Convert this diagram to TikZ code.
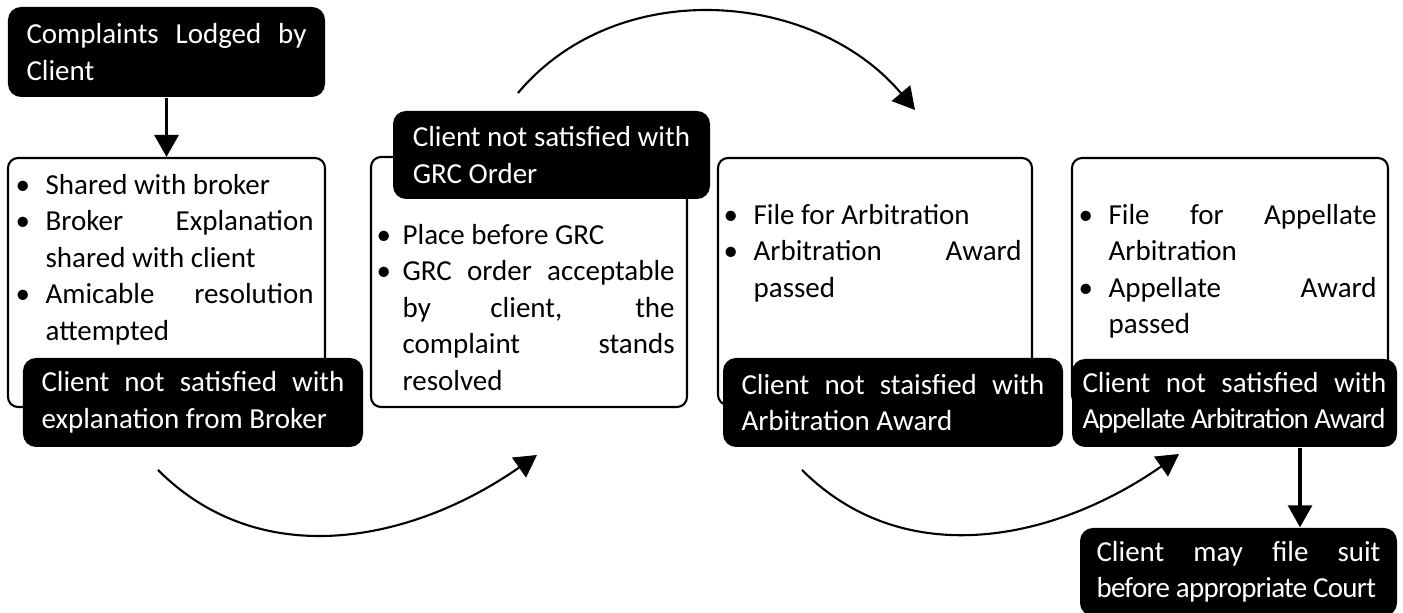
\documentclass[tikz,border=0pt]{standalone}
\usepackage{fontspec}
\setmainfont{Carlito}
\usetikzlibrary{arrows.meta}
\usetikzlibrary{calc}
\hyphenpenalty=10000
\exhyphenpenalty=10000

% one bullet point with hanging indent
\newcommand{\bul}[2][3mm]{\par\hangindent=#1\hangafter=1\noindent\makebox[#1][l]{\textbullet}#2\par}

\begin{document}
\begin{tikzpicture}[>={Triangle[length=2.2mm,width=2.4mm]},
    font=\fontsize{8.25}{10.4}\selectfont,
    pane/.style={draw,line width=0.6pt,rounded corners=1mm,inner sep=0pt},
    tag/.style={fill=black,text=white,rounded corners=1.3mm,align=justify,inner sep=0pt},
    pts/.style={anchor=north west,inner sep=0pt,text width=2.98cm,align=justify},
    flow/.style={->,line width=0.6pt},
    drop/.style={->,line width=0.9pt}]

    \useasboundingbox (0,0) rectangle (14.03,6.13);

    % white panes
    \node[pane,minimum width=3.17cm,minimum height=2.49cm] (b1) at (1.665,3.305) {};
    \node[pane,minimum width=3.16cm,minimum height=2.50cm] (b2) at (5.29,3.31) {};
    \node[pane,minimum width=3.14cm,minimum height=2.47cm] (b3) at (8.75,3.315) {};
    \node[pane,minimum width=3.16cm,minimum height=2.47cm] (b4) at (12.30,3.315) {};

    \node[pts] (p1) at ([shift={(0.08,0.0)}]b1.north west)
        {\bul{Shared with broker}\bul{Broker Explanation\linebreak shared with client}%
         \bul{Amicable resolution\linebreak attempted}};
    \node[pts] (p2) at ([shift={(0.06,-0.51)}]b2.north west)
        {\bul[2.6mm]{Place before GRC}%
         \bul[2.6mm]{GRC order acceptable\linebreak by client, the\linebreak complaint stands\linebreak resolved}};
    \node[pts] (p3) at ([shift={(0.06,-0.30)}]b3.north west)
        {\bul{File for Arbitration}\bul{Arbitration Award\linebreak passed}};
    \node[pts] (p4) at ([shift={(0.07,-0.30)}]b4.north west)
        {\bul{File for Appellate\linebreak Arbitration}\bul{Appellate Award\linebreak passed}};

    % black tags
    \node[tag,minimum width=3.17cm,minimum height=0.90cm,text width=2.80cm] (c0) at (1.665,5.61)
        {Complaints Lodged by\linebreak Client};
    \node[tag,minimum width=3.40cm,minimum height=0.89cm,text width=3.03cm] (k1) at (1.93,2.105)
        {Client not satisfied with\linebreak explanation from Broker};
    \node[tag,minimum width=3.17cm,minimum height=0.88cm,align=left] (k2) at (5.515,4.58)
        {Client not satisfied with\\GRC Order};
    \node[tag,minimum width=3.40cm,minimum height=0.89cm,text width=3.03cm] (k3) at (8.93,2.105)
        {Client not staisfied with\linebreak Arbitration Award};
    \node[tag,minimum width=3.25cm,minimum height=0.88cm,text width=3.04cm] (k4) at (12.345,2.10)
        {Client not satisfied with\linebreak{\addfontfeatures{LetterSpace=-4}Appellate Arbitration Award}};
    \node[tag,minimum width=3.17cm,minimum height=0.88cm,text width=2.84cm] (k5) at (12.385,0.41)
        {Client may file suit\linebreak{\addfontfeatures{LetterSpace=-2.5}before appropriate Court}};

    % arrows
    \draw[drop] (c0) -- (b1);
    \draw[drop] ([xshift=6.55mm]k4.south) -- ([xshift=6.55mm]k4.south |- k5.north);

    \coordinate (l1a) at (1.58,1.43);
    \coordinate (l1b) at (5.37,1.58);
    \coordinate (ua) at (5.18,5.20);
    \coordinate (ub) at (9.15,5.03);
    \coordinate (l2a) at (8.02,1.43);
    \coordinate (l2b) at (11.79,1.59);

    \draw[flow] (l1a) to[out=-45,in=215] (l1b);
    \draw[flow] (ua) to[out=50,in=130] (ub);
    \draw[flow] (l2a) to[out=-45,in=215] (l2b);

\end{tikzpicture}
\end{document}
